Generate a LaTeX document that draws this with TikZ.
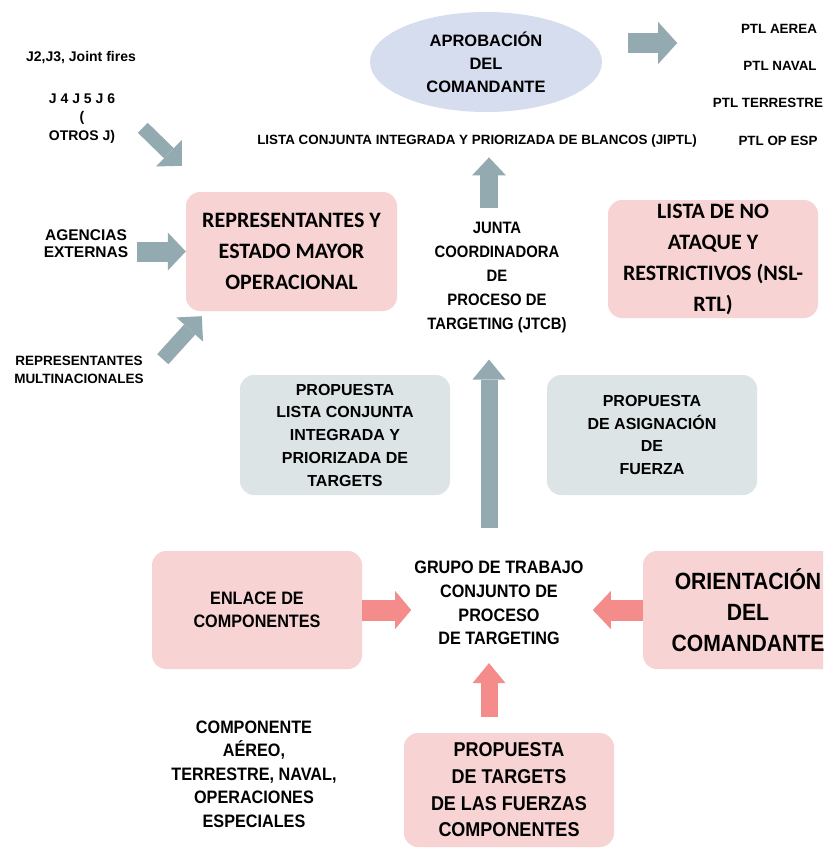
\documentclass[tikz,border=0pt]{standalone}
\usepackage{fontspec}
\setmainfont{Liberation Sans}
\newfontfamily\calfont{Carlito}
\newfontfamily\narrowfont{Liberation Sans}[FakeStretch=0.9]
\usetikzlibrary{positioning}
\usetikzlibrary{arrows.meta}
\usetikzlibrary{shapes.geometric}
\definecolor{pinkfill}{RGB}{248,211,211}
\definecolor{pinkarr}{RGB}{245,140,140}
\definecolor{greyarr}{RGB}{147,170,177}
\definecolor{greyfill}{RGB}{220,228,230}
\definecolor{ovalfill}{RGB}{213,221,238}
\tikzset{
  txt/.style={align=center, inner sep=0pt},
  pinkbox/.style={fill=pinkfill, rounded corners=14pt, minimum width=210pt, minimum height=118pt, align=center},
  greybox/.style={fill=greyfill, rounded corners=14pt, minimum width=210pt, minimum height=120pt, align=center},
  greyarrow/.style={draw=greyarr},
  pinkarrow/.style={draw=pinkarr},
  head/.style 2 args={-{Triangle[length=#1,width=#2,line width=0pt]}}
}

\begin{document}
\begin{tikzpicture}[x=1pt,y=-1pt]
\path [use as bounding box, fill=white] (0,0) rectangle (823,848);
\clip (0,0) rectangle (823,848);

% top
\node (aprob) [ellipse, fill=ovalfill, minimum width=232pt, minimum height=100pt, align=center,
  font={\bfseries\fontsize{16.5}{23}\selectfont}] at (486,62) {APROBACIÓN\\DEL\\COMANDANTE};
\node (ptlA) [txt, font={\bfseries\fontsize{13.4}{16}\selectfont}] at (779,29) {PTL AEREA};
\node (ptlN) [txt, font={\bfseries\fontsize{13.4}{16}\selectfont}] at (780,66) {PTL NAVAL};
\node (ptlT) [txt, font={\bfseries\fontsize{13.4}{16}\selectfont}] at (768,103) {PTL TERRESTRE};
\node (ptlO) [txt, font={\bfseries\fontsize{13.4}{16}\selectfont}] at (778,141) {PTL OP ESP};
\node (jiptl) [txt, font={\bfseries\fontsize{13.4}{16}\selectfont}] at (477,141) {LISTA CONJUNTA INTEGRADA Y PRIORIZADA DE BLANCOS (JIPTL)};

% left inputs
\node (j2) [txt, font={\bfseries\fontsize{14}{18}\selectfont}] at (81,57.5) {J2,J3, Joint fires};
\node (jotros) [txt, font={\bfseries\fontsize{14}{18.5}\selectfont}] at (82,118.5) {J 4 J 5 J 6\\(\\OTROS J)};
\node (agencias) [txt, font={\bfseries\fontsize{15.5}{17}\selectfont}] at (86,244) {AGENCIAS\\EXTERNAS};
\node (multi) [txt, font={\bfseries\fontsize{13.5}{18}\selectfont}] at (79,370) {REPRESENTANTES\\MULTINACIONALES};
\node (repr) [pinkbox, minimum width=211pt, minimum height=119pt, font={\calfont\bfseries\fontsize{22}{31}\selectfont}] at (291.5,251.5) {REPRESENTANTES Y\\ESTADO MAYOR\\OPERACIONAL};

% middle
\node (jtcb) [txt, font={\narrowfont\bfseries\fontsize{16.5}{24}\selectfont}] at (497,278) {JUNTA\\COORDINADORA\\DE\\PROCESO DE\\TARGETING (JTCB)};
\node (noataque) [pinkbox, font={\calfont\bfseries\fontsize{22}{31}\selectfont}] at (713,259) {LISTA DE NO\\ATAQUE Y\\RESTRICTIVOS (NSL-\\RTL)};
\node (propL) [greybox, font={\bfseries\fontsize{16}{22.75}\selectfont}] at (345,435) {PROPUESTA\\LISTA CONJUNTA\\INTEGRADA Y\\PRIORIZADA DE\\TARGETS};
\node (propR) [greybox, font={\bfseries\fontsize{16}{22.75}\selectfont}] at (652,435) {PROPUESTA\\DE ASIGNACIÓN\\DE\\FUERZA};

% bottom
\node (grupo) [txt, font={\narrowfont\bfseries\fontsize{18}{23.7}\selectfont}] at (499,603) {GRUPO DE TRABAJO\\CONJUNTO DE\\PROCESO\\DE TARGETING};
\node (enlace) [pinkbox, font={\narrowfont\bfseries\fontsize{18}{23}\selectfont}] at (257,610) {ENLACE DE\\COMPONENTES};
\node (orient) [pinkbox, font={\narrowfont\bfseries\fontsize{23.5}{31}\selectfont}] at (748,610) {ORIENTACIÓN\\DEL\\COMANDANTE};
\node (targets) [pinkbox, minimum height=114pt, font={\narrowfont\bfseries\fontsize{20}{26.7}\selectfont}] at (509,790) {PROPUESTA\\DE TARGETS\\DE LAS FUERZAS\\COMPONENTES};
\node (comp) [txt, font={\narrowfont\bfseries\fontsize{18}{23.5}\selectfont}] at (254,774) {COMPONENTE\\AÉREO,\\TERRESTRE, NAVAL,\\OPERACIONES\\ESPECIALES};

% grey arrows
\draw [greyarrow, line width=20pt, head={19pt}{42pt}] ([shift={(26,-19)}]aprob.east) -- ([shift={(75,-19)}]aprob.east);
\draw [greyarrow, line width=14pt, head={18pt}{37pt}] ([shift={(-43,-64)}]repr.north west) -- ([shift={(-4,-26)}]repr.north west);
\draw [greyarrow, line width=20pt, head={18pt}{38pt}] ([xshift=-49pt]repr.west) -- (repr.west);
\draw [greyarrow, line width=15pt, head={18pt}{36pt}] ([shift={(-23,48)}]repr.south west) -- ([shift={(16,5)}]repr.south west);
\draw [greyarrow, line width=18pt, head={18pt}{34pt}] ([xshift=-8pt,yshift=14pt]jtcb.north) -- ([xshift=12pt,yshift=-10pt]jiptl.south);
\draw [greyarrow, line width=17pt, head={20pt}{33pt}] ([xshift=-10pt,yshift=33pt]grupo.north) -- ([xshift=-8pt,yshift=-26pt]jtcb.south);

% pink arrows
\draw [pinkarrow, line width=21pt, head={16pt}{38pt}, shorten >=3pt] (enlace.east) -- (enlace.east -| grupo.west);
\draw [pinkarrow, line width=21pt, head={18pt}{38pt}, shorten >=9pt] (orient.west) -- (orient.west -| grupo.east);
\draw [pinkarrow, line width=17pt, head={20pt}{33pt}] ([xshift=-20pt,yshift=16pt]targets.north) -- ([xshift=-10pt,yshift=-18pt]grupo.south);
\end{tikzpicture}
\end{document}
